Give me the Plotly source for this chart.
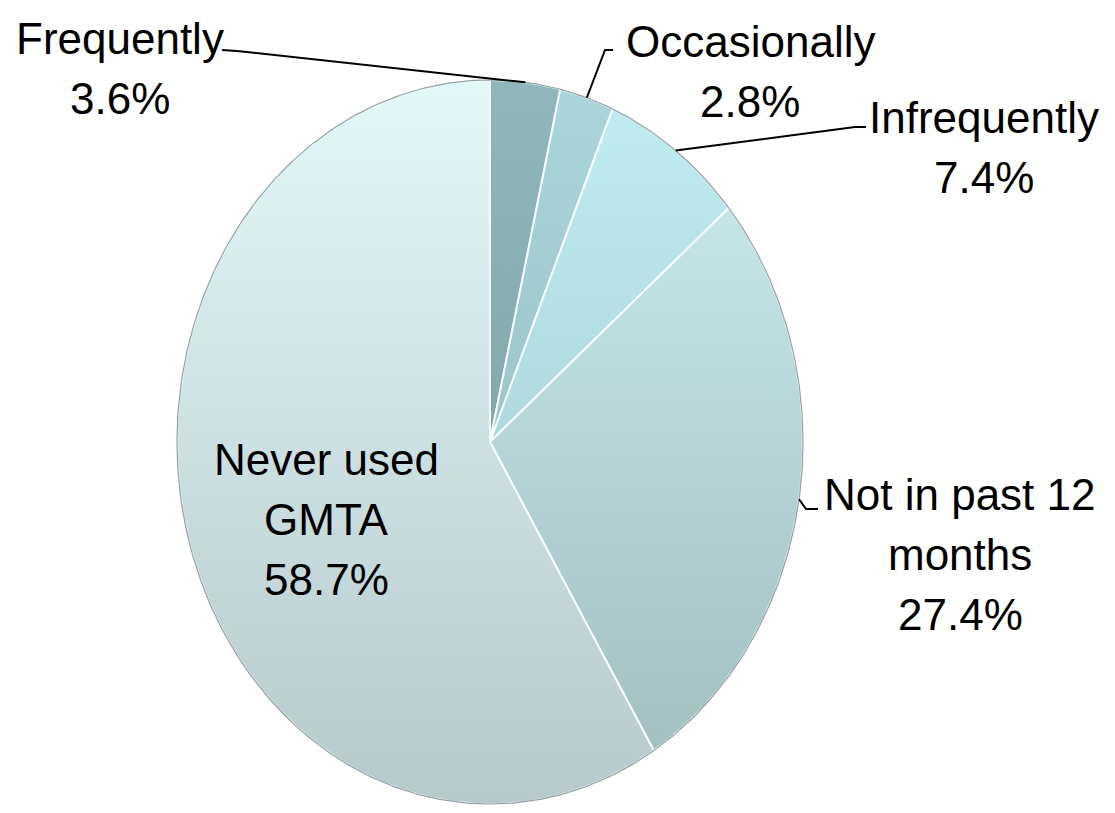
import numpy as np
import plotly.graph_objects as go

# ---------------- data ----------------
categories = ["Frequently", "Occasionally", "Infrequently", "Not in past 12 months", "Never used GMTA"]
values = [3.6, 2.8, 7.4, 27.4, 58.7]
label_lines = [["Frequently"], ["Occasionally"], ["Infrequently"], ["Not in past 12", "months"], ["Never used", "GMTA"]]

# slice colours (top, bottom) for vertical gradient
slice_colors = [
    ("#90b8bc", "#76999d"),
    ("#aad6dc", "#8fb2b6"),
    ("#c0eef3", "#9ec3c8"),
    ("#cdeef2", "#a0bcbf"),
    ("#e3f8fb", "#b6c9cc"),
]

# ---------------- geometry (pixel frame of the screenshot) ----------------
W, H = 1115, 813
OFF = 8  # page body margin
CX, CY, RX, RY = 490, 442, 313, 362


def dx(px):
    return (px - CX) / RX


def dy(py):
    return (CY - py) / RY


total = sum(values)
fig = go.Figure()

cum = 0.0
mids = []
for v, (ctop, cbot), name in zip(values, slice_colors, categories):
    a0 = cum / total * 2 * np.pi
    a1 = (cum + v) / total * 2 * np.pi
    mids.append((a0 + a1) / 2)
    cum += v
    t = np.linspace(a0, a1, max(8, int(v * 6)))
    xs = np.concatenate([[0], np.sin(t), [0]])
    ys = np.concatenate([[0], np.cos(t), [0]])
    fig.add_trace(go.Scatter(
        x=xs, y=ys, mode="lines", fill="toself",
        line=dict(color="rgba(255,255,255,0.85)", width=2),
        fillgradient=dict(type="vertical", colorscale=[[0, cbot], [1, ctop]], start=-1, stop=1),
        hoverinfo="text", text=f"{name}: {v}%", showlegend=False,
    ))

# outer outline
tt = np.linspace(0, 2 * np.pi, 400)
fig.add_trace(go.Scatter(x=np.sin(tt), y=np.cos(tt), mode="lines",
                         line=dict(color="rgba(110,130,133,0.75)", width=1.2),
                         hoverinfo="skip", showlegend=False))

# ---------------- labels ----------------
FS = 44
FONT = "Liberation Sans, Arial, sans-serif"
label_pos = [(120, 53), (750, 56), (984, 132), (960, 509), (326, 474)]
SPACING = 60

annotations = []
for lines, v, (lx, lb) in zip(label_lines, values, label_pos):
    all_lines = lines + [f"{v}%"]
    for i, s in enumerate(all_lines):
        base = lb + i * SPACING
        annotations.append(dict(
            x=dx(lx), y=dy(base - 15), xref="x", yref="y", text=s, showarrow=False,
            xanchor="center", yanchor="middle",
            font=dict(family=FONT, size=FS, color="black"),
        ))

# leader lines (from label to slice edge at mid-angle)
leader_starts = [
    [(222, 50), (237, 51)],
    [(613, 50), (605, 50)],
    [(866, 127), (855, 127)],
    [(818, 509), (806, 509)],
    None,
]
for pts, m in zip(leader_starts, mids):
    if pts is None:
        continue
    xs = [dx(p[0]) for p in pts] + [np.sin(m)]
    ys = [dy(p[1]) for p in pts] + [np.cos(m)]
    fig.add_trace(go.Scatter(x=xs, y=ys, mode="lines", line=dict(color="black", width=2),
                             hoverinfo="skip", showlegend=False))

# axis ranges account for the 8px page margin so the screenshot lines up
fig.update_layout(
    width=W, height=H, margin=dict(l=0, r=0, t=0, b=0),
    paper_bgcolor="white", plot_bgcolor="white",
    xaxis=dict(range=[dx(OFF), dx(W + OFF)], visible=False, fixedrange=True),
    yaxis=dict(range=[dy(H + OFF), dy(OFF)], visible=False, fixedrange=True),
    annotations=annotations, showlegend=False,
)

fig.write_html("out.html")
